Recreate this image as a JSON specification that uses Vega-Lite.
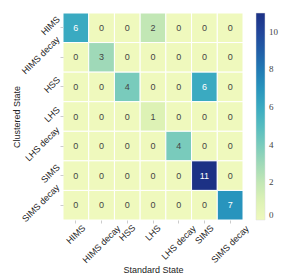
{
  "$schema": "https://vega.github.io/schema/vega-lite/v6.json",
  "autosize": {"type": "none"},
  "width": 180,
  "height": 207,
  "padding": {"left": 63, "top": 13, "right": 56, "bottom": 55},
  "background": "white",
  "config": {
    "view": {"stroke": null},
    "font": "Liberation Sans",
    "axis": {"labelFont": "Liberation Sans", "titleFont": "Liberation Sans", "labelFontSize": 9, "titleFontSize": 9, "titleFontWeight": "normal", "labelColor": "#222", "titleColor": "#222", "domain": false, "tickColor": "#ccc", "tickSize": 3, "grid": false}
  },
  "data": {"values": [
    {"clustered": "HIMS", "standard": "HIMS", "count": 6},
    {"clustered": "HIMS", "standard": "HIMS decay", "count": 0},
    {"clustered": "HIMS", "standard": "HSS", "count": 0},
    {"clustered": "HIMS", "standard": "LHS", "count": 2},
    {"clustered": "HIMS", "standard": "LHS decay", "count": 0},
    {"clustered": "HIMS", "standard": "SIMS", "count": 0},
    {"clustered": "HIMS", "standard": "SIMS decay", "count": 0},
    {"clustered": "HIMS decay", "standard": "HIMS", "count": 0},
    {"clustered": "HIMS decay", "standard": "HIMS decay", "count": 3},
    {"clustered": "HIMS decay", "standard": "HSS", "count": 0},
    {"clustered": "HIMS decay", "standard": "LHS", "count": 0},
    {"clustered": "HIMS decay", "standard": "LHS decay", "count": 0},
    {"clustered": "HIMS decay", "standard": "SIMS", "count": 0},
    {"clustered": "HIMS decay", "standard": "SIMS decay", "count": 0},
    {"clustered": "HSS", "standard": "HIMS", "count": 0},
    {"clustered": "HSS", "standard": "HIMS decay", "count": 0},
    {"clustered": "HSS", "standard": "HSS", "count": 4},
    {"clustered": "HSS", "standard": "LHS", "count": 0},
    {"clustered": "HSS", "standard": "LHS decay", "count": 0},
    {"clustered": "HSS", "standard": "SIMS", "count": 6},
    {"clustered": "HSS", "standard": "SIMS decay", "count": 0},
    {"clustered": "LHS", "standard": "HIMS", "count": 0},
    {"clustered": "LHS", "standard": "HIMS decay", "count": 0},
    {"clustered": "LHS", "standard": "HSS", "count": 0},
    {"clustered": "LHS", "standard": "LHS", "count": 1},
    {"clustered": "LHS", "standard": "LHS decay", "count": 0},
    {"clustered": "LHS", "standard": "SIMS", "count": 0},
    {"clustered": "LHS", "standard": "SIMS decay", "count": 0},
    {"clustered": "LHS decay", "standard": "HIMS", "count": 0},
    {"clustered": "LHS decay", "standard": "HIMS decay", "count": 0},
    {"clustered": "LHS decay", "standard": "HSS", "count": 0},
    {"clustered": "LHS decay", "standard": "LHS", "count": 0},
    {"clustered": "LHS decay", "standard": "LHS decay", "count": 4},
    {"clustered": "LHS decay", "standard": "SIMS", "count": 0},
    {"clustered": "LHS decay", "standard": "SIMS decay", "count": 0},
    {"clustered": "SIMS", "standard": "HIMS", "count": 0},
    {"clustered": "SIMS", "standard": "HIMS decay", "count": 0},
    {"clustered": "SIMS", "standard": "HSS", "count": 0},
    {"clustered": "SIMS", "standard": "LHS", "count": 0},
    {"clustered": "SIMS", "standard": "LHS decay", "count": 0},
    {"clustered": "SIMS", "standard": "SIMS", "count": 11},
    {"clustered": "SIMS", "standard": "SIMS decay", "count": 0},
    {"clustered": "SIMS decay", "standard": "HIMS", "count": 0},
    {"clustered": "SIMS decay", "standard": "HIMS decay", "count": 0},
    {"clustered": "SIMS decay", "standard": "HSS", "count": 0},
    {"clustered": "SIMS decay", "standard": "LHS", "count": 0},
    {"clustered": "SIMS decay", "standard": "LHS decay", "count": 0},
    {"clustered": "SIMS decay", "standard": "SIMS", "count": 0},
    {"clustered": "SIMS decay", "standard": "SIMS decay", "count": 7}
  ]},
  "encoding": {
    "x": {"field": "standard", "type": "nominal", "sort": null, "scale": {"paddingInner": 0, "paddingOuter": 0},
      "axis": {"title": "Standard State", "labelAngle": -45, "labelAlign": "center", "labelBaseline": "middle",
        "labelPadding": {"expr": "2 + 0.354 * (4.6 * length(datum.label) + 7)"},
        "titleY": 49, "titleBaseline": "middle"}},
    "y": {"field": "clustered", "type": "nominal", "sort": null, "scale": {"paddingInner": 0, "paddingOuter": 0},
      "axis": {"title": "Clustered State", "labelAngle": -45, "labelAlign": "center", "labelBaseline": "middle",
        "labelPadding": {"expr": "1 + 0.354 * (4.6 * length(datum.label) + 7)"}, "labelOffset": -2,
        "titleX": -47, "titleBaseline": "middle"}}
  },
  "layer": [
    {
      "mark": {"type": "rect", "stroke": "white", "strokeWidth": 1},
      "encoding": {
        "color": {"field": "count", "type": "quantitative",
          "scale": {"scheme": "yellowgreenblue", "domain": [0, 11]},
          "legend": {"title": null, "gradientLength": 207, "gradientThickness": 9, "offset": 13, "padding": 0, "values": [0, 2, 4, 6, 8, 10], "labelOffset": 4, "labelFont": "Liberation Serif", "labelFontSize": 9, "labelColor": "#444", "gradientStrokeColor": "#ddd", "gradientStrokeWidth": 0.5}}
      }
    },
    {
      "mark": {"type": "text", "fontSize": 9, "font": "Liberation Sans"},
      "encoding": {
        "text": {"field": "count", "type": "quantitative"},
        "color": {"condition": {"test": "datum.count > 5", "value": "white"}, "value": "#444"}
      }
    }
  ]
}
